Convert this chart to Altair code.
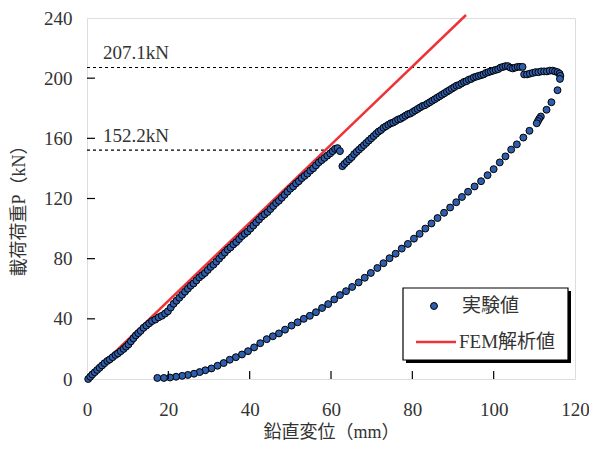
import altair as alt
import pandas as pd

# ---------------- data ----------------
# experimental points (displacement mm, load kN) read from the picture
load1_x = [0.3, 0.8, 1.3, 1.9, 2.5, 3.1, 3.7, 4.3, 5.0, 5.6, 6.3, 7.0, 7.6, 8.3, 9.0, 9.6,
           10.2, 10.8, 11.4, 12.0, 12.6, 13.2, 13.9, 14.6, 15.3, 16.0, 16.8, 17.6, 18.4, 19.2,
           19.9, 20.6, 21.3, 22.0, 22.7, 23.4, 24.1, 24.8, 25.5, 26.2, 26.9, 27.6, 28.3, 29.0,
           29.7, 30.4, 31.1, 31.8, 32.5, 33.2, 33.9, 34.6, 35.3, 36.0, 36.7, 37.4, 38.1, 38.8,
           39.5, 40.2, 40.9, 41.6, 42.3, 43.0, 43.7, 44.4, 45.1, 45.8, 46.5, 47.2, 47.9, 48.6,
           49.3, 50.0, 50.7, 51.4, 52.1, 52.8, 53.5, 54.2, 54.9, 55.6, 56.3, 57.0, 57.7, 58.4,
           59.1, 59.8, 60.4, 61.0, 61.6, 62.2]
load1_y = [0, 1.5, 3, 4.5, 6, 7.5, 9, 10.5, 12, 13, 14.5, 16, 17, 18.5, 20, 21.5,
           23, 25, 27, 29, 30.5, 32, 34, 35.5, 37, 38.5, 39.5, 41, 42, 43.5,
           45, 47.5, 50, 52, 54, 56, 58, 60, 62, 63.5, 65.5, 67.5, 69, 70.5,
           72.5, 74.5, 76, 78, 80, 82, 84, 86, 87.5, 89.5, 91, 93, 95, 96.5,
           98, 100, 102, 104, 106, 108, 109.5, 111, 113, 115, 117, 118.5, 120.5, 122.5,
           124.5, 126.5, 128, 130, 131.5, 133.5, 135, 136.5, 138.5, 140, 142, 144, 145.5, 147,
           148.5, 150, 151.5, 153, 153.5, 151.5]

load2_x = [62.8, 63.3, 63.9, 64.5, 65.1, 65.7, 66.3, 66.9, 67.5, 68.1, 68.7, 69.3, 69.9, 70.5,
           71.1, 71.7, 72.3, 72.9, 73.5, 74.1, 74.7, 75.3, 75.9, 76.5, 77.1, 77.7, 78.3, 78.9,
           79.5, 80.1, 80.7, 81.3, 81.9, 82.5, 83.1, 83.7, 84.3, 84.9, 85.5, 86.1, 86.7, 87.3,
           87.9, 88.5, 89.1, 89.7, 90.3, 90.9, 91.5, 92.1, 92.7, 93.3, 93.9, 94.5, 95.1, 95.7,
           96.3, 96.9, 97.5, 98.1, 98.7, 99.3, 99.9, 100.5, 101.1, 101.7, 102.3, 102.9, 103.5,
           104.1, 104.7, 105.3, 105.9, 106.5, 107.1,
           107.5, 108.2, 108.9, 109.6, 110.3, 111.0, 111.7, 112.4, 113.1, 113.8, 114.5, 115.1,
           115.7, 116.2, 116.4, 116.3]
load2_y = [141.5, 143, 144.5, 146, 147.5, 149.5, 151, 152.5, 154, 155.5, 157, 158.5, 160, 161.5,
           163, 164.5, 165.5, 167, 168, 169, 170, 170.5, 171.5, 172.5, 173, 174, 175, 176,
           176.5, 177.5, 178.5, 179.5, 180.5, 181.5, 182, 183, 184, 185, 186, 187, 188, 189,
           190, 191, 192, 193, 194, 195, 195.5, 196.5, 197.5, 198, 199, 199.5, 200.5, 201,
           201.5, 202, 202.5, 203.5, 204, 204.5, 205, 205.5, 206, 207, 207.5, 208, 208,
           207, 206.5, 207, 207.5, 207.5, 207.5,
           202.5, 202.5, 203, 203.5, 204, 204, 204.5, 204.5, 204.5, 205, 205, 204.5,
           204, 203, 201.5, 199.5]

unload_x = [115.7, 114.2, 113.0, 111.6, 111.2, 110.9, 110.6, 108.8, 107.3, 105.7, 104.3, 102.9,
            101.5, 100.0, 98.5, 96.9, 95.3, 93.7, 92.2, 90.8, 89.3, 87.8, 86.2, 84.7, 83.2,
            81.8, 80.4, 78.9, 77.4, 75.9, 74.4, 72.9, 71.4, 69.8, 68.3, 66.8, 65.2, 63.7, 62.2,
            60.8, 59.3, 57.8, 56.3, 54.8, 53.3, 51.8, 50.3, 48.7, 47.2, 45.7, 44.2, 42.6, 41.1,
            39.6, 38.1, 36.6, 35.1, 33.6, 32.1, 30.6, 29.1, 27.7, 26.3, 24.8, 23.4, 21.9, 20.4,
            18.9, 17.3]
unload_y = [192, 184, 179, 174.5, 173, 171.5, 170, 165, 160.5, 156, 152.5, 148,
            144, 139.5, 135.5, 131.5, 128, 124.5, 121, 117.5, 114, 110.5, 107, 103.4, 100,
            96.5, 93.3, 89.8, 86.7, 83.3, 80.3, 77, 73.8, 70.5, 67.3, 64.2, 61.2, 58.4, 55.8,
            52.9, 49.8, 47.2, 44.4, 42, 40, 37.7, 35.5, 32.8, 30.3, 28.4, 26.5, 23.8, 21,
            18.5, 16.3, 14.5, 12.8, 10.6, 8.8, 7, 5.8, 4.6, 3.5, 2.7, 2.1, 1.5, 1.0,
            0.7, 0.7]

# FEM analysis line
fem_x = [0, 93.2]
fem_y = [0, 242]

# reference levels
ref_y = [207.1, 152.2]
ref_end = [99.4, 58.6]
ref_label = ["207.1kN", "152.2kN"]

x_ticks = [0, 20, 40, 60, 80, 100, 120]
y_ticks = [0, 40, 80, 120, 160, 200, 240]

legend_labels = ["実験値", "FEM解析値"]

# ---------------- styles ----------------
W, H = 488, 361
BLUE = "#2F5EAD"
RED = "#EE3338"
SERIF = "Liberation Serif, Noto Sans CJK JP"
TXT = "#333333"

exp_df = pd.DataFrame({"x": load1_x + load2_x + unload_x,
                       "y": load1_y + load2_y + unload_y})
fem_df = pd.DataFrame({"x": fem_x, "y": fem_y})
ref_df = pd.DataFrame({"y": ref_y, "x_end": ref_end, "label": ref_label})
ref_df["x0"] = 0
xt_df = pd.DataFrame({"t": x_ticks[1:-1]})
yt_df = pd.DataFrame({"t": y_ticks[1:-1]})
one = pd.DataFrame({"a": [0]})

xs = alt.Scale(domain=[0, 120], nice=False, zero=False)
ys = alt.Scale(domain=[0, 240], nice=False, zero=False)

x_axis = alt.Axis(values=x_ticks, title="鉛直変位（mm）", grid=False, domain=False, ticks=False,
                  labelFont="Liberation Serif", labelFontSize=19, labelColor=TXT,
                  labelPadding=21, labelFlush=False,
                  titleFont=SERIF, titleFontSize=18, titleFontWeight="normal", titleColor=TXT,
                  titleY=53, titleBaseline="middle")
y_axis = alt.Axis(values=y_ticks, title="載荷荷重P（kN）", grid=False, domain=False, ticks=False,
                  labelFont="Liberation Serif", labelFontSize=19, labelColor=TXT,
                  labelPadding=15, labelFlush=False,
                  titleFont=SERIF, titleFontSize=18, titleFontWeight="normal", titleColor=TXT,
                  titleAngle=270, titleX=-68, titleY=188, titleAlign="center",
                  titleBaseline="middle")

ref_rules = alt.Chart(ref_df).mark_rule(color="black", strokeWidth=1.2, strokeDash=[3, 3]).encode(
    x=alt.X("x0:Q", scale=xs, axis=x_axis),
    x2="x_end:Q",
    y=alt.Y("y:Q", scale=ys, axis=y_axis),
)
ref_text = alt.Chart(ref_df).mark_text(align="left", baseline="middle", dy=-14,
                                       font="Liberation Serif", fontSize=19, color=TXT).encode(
    x=alt.value(16),
    y=alt.Y("y:Q", scale=ys),
    text="label:N",
)
fem_line = alt.Chart(fem_df).mark_line(color=RED, strokeWidth=2.5).encode(
    x=alt.X("x:Q", scale=xs), y=alt.Y("y:Q", scale=ys))
pts = alt.Chart(exp_df).mark_point(filled=True, shape="circle", size=48, fill=BLUE,
                                   stroke="black", strokeWidth=1, opacity=1).encode(
    x=alt.X("x:Q", scale=xs), y=alt.Y("y:Q", scale=ys))

xt = alt.Chart(xt_df).mark_rule(color="black", strokeWidth=1.2).encode(
    x=alt.X("t:Q", scale=xs), y=alt.value(H), y2=alt.value(H - 8))
yt = alt.Chart(yt_df).mark_rule(color="black", strokeWidth=1.2).encode(
    y=alt.Y("t:Q", scale=ys), x=alt.value(0), x2=alt.value(8))

# legend box
shadow = alt.Chart(one).mark_rect(color="black").encode(
    x=alt.value(319), x2=alt.value(484), y=alt.value(273), y2=alt.value(345))
box = alt.Chart(one).mark_rect(fill="white", stroke="black", strokeWidth=1.2).encode(
    x=alt.value(316), x2=alt.value(481), y=alt.value(270), y2=alt.value(342))
leg_pt = alt.Chart(one).mark_point(filled=True, shape="circle", size=48, fill=BLUE,
                                   stroke="black", strokeWidth=1, opacity=1).encode(
    x=alt.value(347), y=alt.value(288))
leg_line = alt.Chart(one).mark_rule(color=RED, strokeWidth=2.5).encode(
    x=alt.value(329), x2=alt.value(369), y=alt.value(324))
leg_t1 = alt.Chart(one).mark_text(align="left", baseline="middle", font=SERIF, fontSize=19,
                                  color=TXT, text=legend_labels[0]).encode(
    x=alt.value(375), y=alt.value(288))
leg_t2 = alt.Chart(one).mark_text(align="left", baseline="middle", font=SERIF, fontSize=19,
                                  color=TXT, text=legend_labels[1]).encode(
    x=alt.value(372), y=alt.value(324))

chart = alt.layer(ref_rules, ref_text, fem_line, pts, xt, yt,
                  shadow, box, leg_pt, leg_line, leg_t1, leg_t2).properties(
    width=W, height=H,
    autosize=alt.AutoSizeParams(type="none"),
    padding={"left": 79, "top": 10, "right": 14, "bottom": 63},
).configure_view(stroke="black", strokeWidth=1.3).configure(background="white")

chart.save("out.html", embed_options={"renderer": "svg", "actions": False})
